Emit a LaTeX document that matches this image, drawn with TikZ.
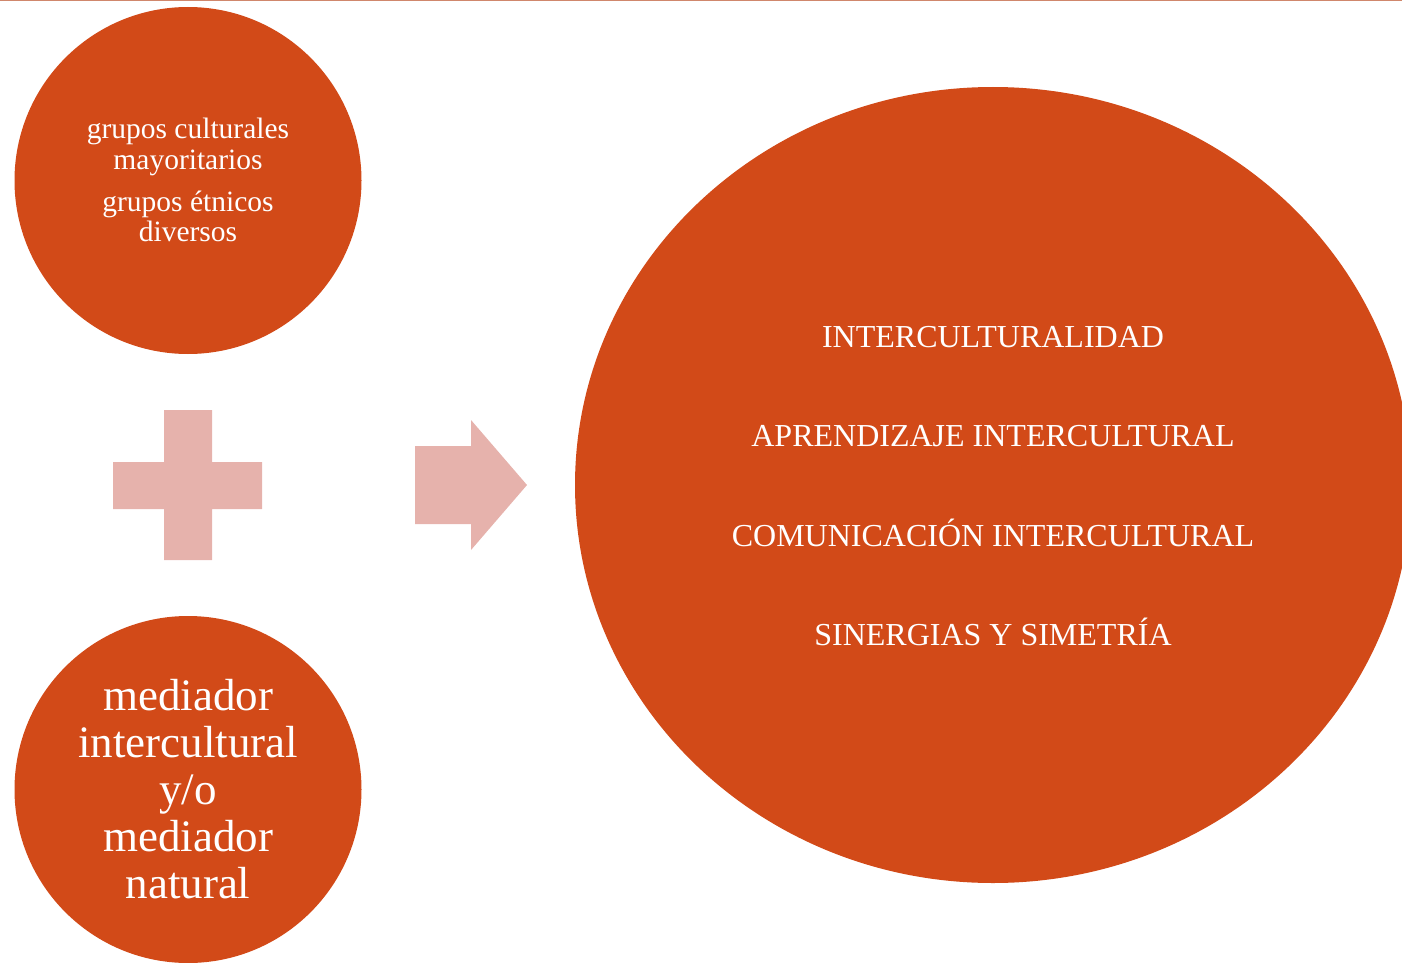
\documentclass[tikz,border=0pt]{standalone}
\usepackage{fontspec}
\setmainfont{Liberation Serif}
\definecolor{rust}{HTML}{D24A18}
\definecolor{blush}{HTML}{E6B2AC}
\definecolor{rule}{HTML}{D0876C}
\tikzset{
  disc/.style={circle, fill=rust, draw=none, inner sep=0pt, minimum size=347pt},
  smalltxt/.style={text=white, anchor=base, inner sep=0pt, font=\fontsize{29.5}{30.5}\selectfont},
  bigtxt/.style={text=white, anchor=base, inner sep=0pt, font=\fontsize{45}{47}\selectfont},
  ovaltxt/.style={text=white, anchor=base, inner sep=0pt, font=\fontsize{32}{34}\selectfont},
  symb/.style={fill=blush, draw=none}
}
\begin{document}
\begin{tikzpicture}[x=1pt,y=-1pt]
\useasboundingbox (0,0) rectangle (1402,963);
% top rule
\draw[rule, line width=1.2pt] (0,0.6) -- (1402,0.6);
% shapes
\node[disc] (groups) at (188,180.5) {};
\node[disc] (mediator) at (188,789.5) {};
\fill[rust] (993,485) ellipse [x radius=418, y radius=398];
\coordinate (result) at (993,485);
% plus sign
\fill[symb] (164,410) -- (212,410) -- (212,462) -- (262,462) -- (262,509) -- (212,509)
  -- (212,560) -- (164,560) -- (164,509) -- (113,509) -- (113,462) -- (164,462) -- cycle;
% arrow
\fill[symb] (415,446) -- (471,446) -- (471,420) -- (527,485) -- (471,550) -- (471,524) -- (415,524) -- cycle;
% texts top circle
\node[smalltxt] (g1) at (188,139) {grupos culturales};
\node[smalltxt] (g2) at (188,169.5) {mayoritarios};
\node[smalltxt] (g3) at (188,211.5) {grupos étnicos};
\node[smalltxt] (g4) at (188,241.5) {diversos};
% texts bottom circle
\node[bigtxt] (m1) at (188,710) {mediador};
\node[bigtxt] (m2) at (188,757) {intercultural};
\node[bigtxt] (m3) at (188,804) {y/o};
\node[bigtxt] (m4) at (188,851.5) {mediador};
\node[bigtxt] (m5) at (188,898.5) {natural};
% texts ellipse
\node[ovaltxt] (r1) at (993,347) {INTERCULTURALIDAD};
\node[ovaltxt] (r2) at (993,446) {APRENDIZAJE INTERCULTURAL};
\node[ovaltxt] (r3) at (993,546) {COMUNICACIÓN INTERCULTURAL};
\node[ovaltxt] (r4) at (993,645) {SINERGIAS Y SIMETRÍA};
\end{tikzpicture}
\end{document}
